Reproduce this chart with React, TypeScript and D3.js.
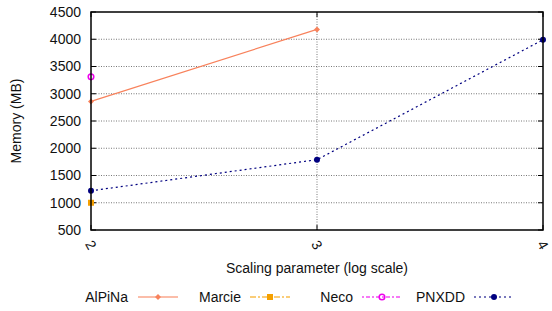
import React from 'react';
import * as d3 from 'd3';

const xTicks = [2, 3, 4];
const yTicks = [500, 1000, 1500, 2000, 2500, 3000, 3500, 4000, 4500];

const alpinaX = [2, 3];
const alpinaY = [2860, 4180];
const marcieX = [2];
const marcieY = [1000];
const necoX = [2];
const necoY = [3310];
const pnxddX = [2, 3, 4];
const pnxddY = [1220, 1790, 3990];

const seriesNames = ['AlPiNa', 'Marcie', 'Neco', 'PNXDD'];

const W = 552;
const H = 311;
const margin = { top: 12, right: 9, bottom: 81, left: 91 };
const font = 'Liberation Sans, Arial, sans-serif';

const series = [
  { name: seriesNames[0], xs: alpinaX, ys: alpinaY, color: '#f8825c', dash: '', marker: 'diamond' },
  { name: seriesNames[1], xs: marcieX, ys: marcieY, color: '#f5a000', dash: '6,2,2,2', marker: 'square' },
  { name: seriesNames[2], xs: necoX, ys: necoY, color: '#ee00ee', dash: '2,2,4,2', marker: 'circle' },
  { name: seriesNames[3], xs: pnxddX, ys: pnxddY, color: '#000080', dash: '2,3', marker: 'dot' },
];

function Marker({ type, x, y, color }: { type: string; x: number; y: number; color: string }) {
  if (type === 'diamond') {
    return <path d={`M${x},${y - 3}L${x + 3},${y}L${x},${y + 3}L${x - 3},${y}Z`} fill={color} />;
  }
  if (type === 'square') {
    return <rect x={x - 3} y={y - 3} width={6} height={6} fill={color} />;
  }
  if (type === 'circle') {
    return <circle cx={x} cy={y} r={2.8} fill="none" stroke={color} strokeWidth={1.5} />;
  }
  return <circle cx={x} cy={y} r={3} fill={color} />;
}

export default function App() {
  const iw = W - margin.left - margin.right;
  const ih = H - margin.top - margin.bottom;
  const x = d3.scaleLinear().domain([2, 4]).range([margin.left, margin.left + iw]);
  const y = d3.scaleLinear().domain([500, 4500]).range([margin.top + ih, margin.top]);

  const legendPos = [
    { tx: 128, lx: 138 },
    { tx: 241, lx: 250 },
    { tx: 353, lx: 362 },
    { tx: 465, lx: 474 },
  ];
  const legendY = 297;

  return (
    <svg width={W} height={H} style={{ position: 'absolute', left: 0, top: 0 }}>
      <rect width={W} height={H} fill="#fff" />
      {/* grid */}
      {yTicks.slice(1, -1).map((t) => (
        <line key={'gy' + t} x1={x(2)} x2={x(4)} y1={y(t)} y2={y(t)} stroke="#555" strokeWidth={0.8} strokeDasharray="1,1.5" />
      ))}
      {xTicks.slice(1, -1).map((t) => (
        <line key={'gx' + t} x1={x(t)} x2={x(t)} y1={y(500)} y2={y(4500)} stroke="#555" strokeWidth={0.8} strokeDasharray="1,1.5" />
      ))}
      {/* tick marks */}
      {yTicks.map((t) => (
        <g key={'ty' + t}>
          <line x1={x(2)} x2={x(2) + 5} y1={y(t)} y2={y(t)} stroke="#000" />
          <line x1={x(4)} x2={x(4) - 5} y1={y(t)} y2={y(t)} stroke="#000" />
          <text x={x(2) - 10} y={y(t)} dy="0.35em" textAnchor="end" fontSize={14} fontFamily={font} fill="#111">
            {t}
          </text>
        </g>
      ))}
      {xTicks.map((t) => (
        <g key={'tx' + t}>
          <line x1={x(t)} x2={x(t)} y1={y(500)} y2={y(500) - 5} stroke="#000" />
          <line x1={x(t)} x2={x(t)} y1={y(4500)} y2={y(4500) + 5} stroke="#000" />
          <text
            transform={`translate(${x(t)},${y(500) + 15}) rotate(60)`}
            textAnchor="middle"
            dy="0.35em"
            fontSize={14}
            fontFamily={font}
            fill="#111"
          >
            {t}
          </text>
        </g>
      ))}
      {/* series */}
      {series.map((s) => {
        const pts = s.xs.map((v, i) => [x(v), y(s.ys[i])] as [number, number]);
        const line = d3.line();
        return (
          <g key={s.name}>
            {pts.length > 1 && (
              <path d={line(pts) || ''} fill="none" stroke={s.color} strokeWidth={1.2} strokeDasharray={s.dash || undefined} />
            )}
            {pts.map((p, i) => (
              <Marker key={i} type={s.marker} x={p[0]} y={p[1]} color={s.color} />
            ))}
          </g>
        );
      })}
      {/* frame */}
      <rect x={x(2)} y={y(4500)} width={iw} height={ih} fill="none" stroke="#000" strokeWidth={1.5} />
      {/* axis titles */}
      <text
        transform={`translate(21,${margin.top + ih / 2}) rotate(-90)`}
        textAnchor="middle"
        fontSize={14}
        fontFamily={font}
        fill="#111"
      >
        Memory (MB)
      </text>
      <text x={margin.left + iw / 2} y={273} textAnchor="middle" fontSize={14} fontFamily={font} fill="#111">
        Scaling parameter (log scale)
      </text>
      {/* legend */}
      {series.map((s, i) => (
        <g key={'lg' + s.name}>
          <text x={legendPos[i].tx} y={legendY} dy="0.35em" textAnchor="end" fontSize={14} fontFamily={font} fill="#111">
            {s.name}
          </text>
          <line
            x1={legendPos[i].lx}
            x2={legendPos[i].lx + 40}
            y1={legendY}
            y2={legendY}
            stroke={s.color}
            strokeOpacity={0.7}
            strokeWidth={1.5}
            strokeDasharray={s.dash || undefined}
          />
          <Marker type={s.marker} x={legendPos[i].lx + 20} y={legendY} color={s.color} />
        </g>
      ))}
    </svg>
  );
}
